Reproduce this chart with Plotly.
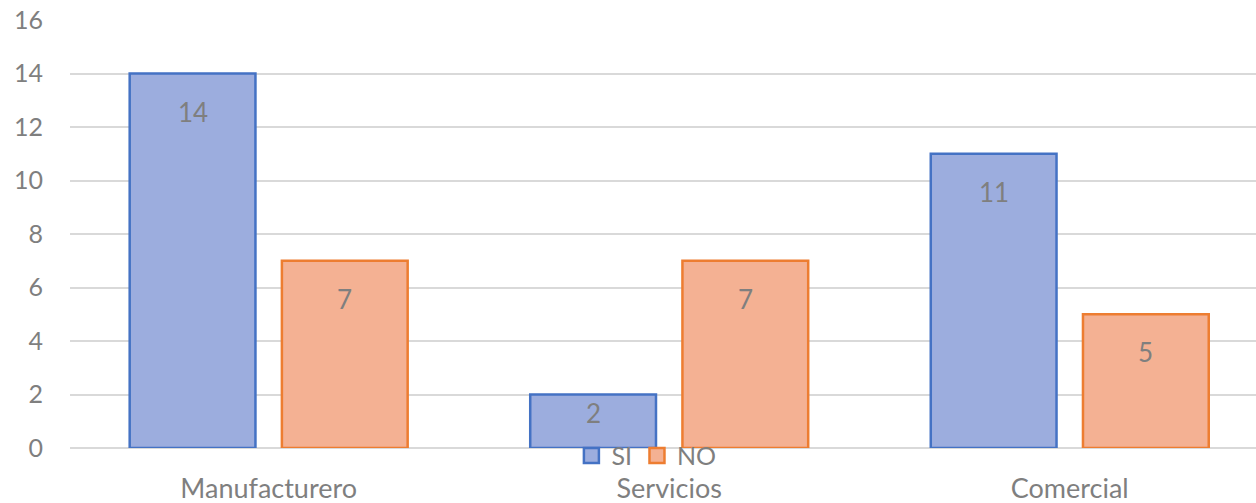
import plotly.graph_objects as go

categories = ["Manufacturero", "Servicios", "Comercial"]
si_values = [14, 2, 11]
no_values = [7, 7, 5]
y_ticks = [0, 2, 4, 6, 8, 10, 12, 14, 16]

FONT = "Lato, 'Open Sans', sans-serif"
GRAY = "#7f7f7f"
BAR_W = 0.314

series = [
    ("SI", si_values, -0.347, "#9cadde", "#4472c4"),
    ("NO", no_values, 0.033, "#f4b193", "#ed7d31"),
]

fig = go.Figure()
for name, vals, off, fill, edge in series:
    fig.add_trace(go.Bar(
        name=name, x=categories, y=vals, width=BAR_W, offset=off,
        marker=dict(color=fill, line=dict(color=edge, width=2.5)),
        showlegend=False, legendgroup=name,
    ))
    # larger square swatch for the legend entry
    fig.add_trace(go.Scatter(
        name=name, x=[None], y=[None], mode="markers", legendgroup=name,
        marker=dict(symbol="square", size=15, color=fill,
                    line=dict(color=edge, width=2.5)),
    ))

# value labels sit inside the top end of each bar
px_per_unit = 428 / 16
for name, vals, off, fill, edge in series:
    for i, v in enumerate(vals):
        bar_px = v * px_per_unit
        fig.add_annotation(
            x=i + off + BAR_W / 2, y=v, xref="x", yref="y",
            text=str(v), showarrow=False,
            yanchor="middle", yshift=-min(38, 0.34 * bar_px),
            font=dict(family=FONT, size=26, color=GRAY),
        )

fig.update_layout(
    width=1256, height=503,
    margin=dict(l=70, r=0, t=20, b=55, autoexpand=False),
    paper_bgcolor="white", plot_bgcolor="white",
    barmode="group",
    showlegend=True,
    legend=dict(
        orientation="h", x=0.486, xanchor="center", y=-0.018, yanchor="middle",
        font=dict(family=FONT, size=25, color=GRAY),
        bgcolor="rgba(0,0,0,0)", itemwidth=30, tracegroupgap=0,
    ),
    font=dict(family=FONT, size=25, color=GRAY),
)
fig.update_xaxes(
    range=[-0.496, 2.465], showgrid=False, showline=False, zeroline=False,
    ticks="", ticklabelstandoff=22, automargin=False,
    tickfont=dict(family=FONT, size=27, color=GRAY),
)
fig.update_yaxes(
    range=[0, 16], tickvals=y_ticks, showgrid=True,
    gridcolor="#d9d9d9", gridwidth=2, zeroline=True, zerolinecolor="#d9d9d9",
    zerolinewidth=2, showline=False, ticks="", ticklabelstandoff=26,
    automargin=False,
    tickfont=dict(family=FONT, size=25, color=GRAY),
)

fig.write_html("out.html")
